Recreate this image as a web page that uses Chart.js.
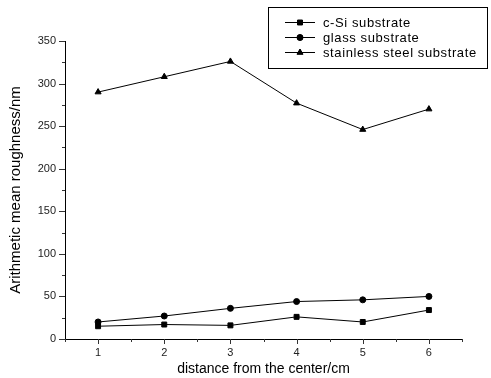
<!DOCTYPE html>
<html>
<head>
<meta charset="utf-8">
<script src="https://cdn.jsdelivr.net/npm/chart.js@4"></script>
<style>
  body { margin: 0; background: #fff; }
  #wrap { width: 491px; height: 378px; }
</style>
</head>
<body>
<div id="wrap"><canvas id="c"></canvas></div>
<script>
// data
const distances = [1, 2, 3, 4, 5, 6];
const cSi = [15, 17, 16, 26, 20, 34];
const glass = [20, 27, 36, 44, 46, 50];
const stainless = [290, 308, 326, 277, 246, 270];
const seriesNames = ['c-Si substrate', 'glass substrate', 'stainless steel substrate'];
const markers = ['rect', 'circle', 'triangle'];

const FONT = 'Liberation Sans, Arial, sans-serif';

function pts(vals) {
    return distances.map((d, i) => ({ x: d, y: vals[i] }));
}

// outward axis ticks, major longer than minor
const axisTicks = {
    id: 'axisTicks',
    afterDraw(chart) {
        const ctx = chart.ctx;
        const a = chart.chartArea;
        const xs = chart.scales.x, ys = chart.scales.y;
        ctx.save();
        ctx.strokeStyle = '#333';
        ctx.lineWidth = 1;
        ctx.beginPath();
        for (let v = 0; v <= 350; v += 25) {
            const y = Math.round(ys.getPixelForValue(v)) + 0.5;
            const len = v % 50 === 0 ? 6 : 3;
            ctx.moveTo(a.left, y);
            ctx.lineTo(a.left - len, y);
        }
        for (let v = 0.5; v <= 6.5; v += 0.5) {
            const x = Math.round(xs.getPixelForValue(v)) + 0.5;
            const len = Number.isInteger(v) ? 5 : 3;
            ctx.moveTo(x, a.bottom);
            ctx.lineTo(x, a.bottom + len);
        }
        ctx.stroke();
        ctx.restore();
    }
};

// boxed legend with line + marker samples
const boxLegend = {
    id: 'boxLegend',
    afterDraw(chart) {
        const ctx = chart.ctx;
        ctx.save();
        ctx.strokeStyle = '#000';
        ctx.lineWidth = 1;
        ctx.strokeRect(268.5, 7.5, 219, 61);
        ctx.font = '13px ' + FONT;
        ctx.letterSpacing = '0.6px';
        ctx.textBaseline = 'middle';
        ctx.fillStyle = '#000';
        chart.data.datasets.forEach((ds, i) => {
            const y = 22 + i * 15;
            ctx.beginPath();
            ctx.moveTo(285, y + 0.5);
            ctx.lineTo(315, y + 0.5);
            ctx.stroke();
            Chart.helpers.drawPoint(ctx, {
                pointStyle: ds.pointStyle, radius: ds.pointRadius, rotation: 0,
                borderWidth: 1
            }, 300, y + 0.5);
            ctx.fill();
            ctx.fillText(ds.label, 323, y + 1);
        });
        ctx.restore();
    }
};

function makeSet(i, vals) {
    return {
        label: seriesNames[i],
        data: pts(vals),
        borderColor: '#000',
        backgroundColor: '#000',
        borderWidth: 1,
        pointStyle: markers[i],
        pointRadius: i === 1 ? 3 : 3.5,
        pointBackgroundColor: '#000',
        pointBorderColor: '#000',
        pointBorderWidth: 1,
        tension: 0
    };
}

new Chart(document.getElementById('c'), {
    type: 'line',
    data: {
        datasets: [makeSet(0, cSi), makeSet(1, glass), makeSet(2, stainless)]
    },
    options: {
        responsive: true,
        maintainAspectRatio: false,
        animation: false,
        layout: { padding: { top: 41, right: 29, left: 0, bottom: 0 } },
        plugins: {
            legend: { display: false },
            tooltip: { enabled: false }
        },
        scales: {
            x: {
                type: 'linear',
                min: 0.5, max: 6.5,
                afterFit: s => { s.height = 39; },
                grid: { display: true, drawOnChartArea: false, color: 'transparent', tickLength: 5 },
                border: { display: true, color: '#000' },
                ticks: {
                    stepSize: 0.5, autoSkip: false, maxRotation: 0, padding: 2,
                    color: '#222', font: { family: FONT, size: 11 },
                    callback: v => Number.isInteger(v) && v >= 1 && v <= 6 ? String(v) : ''
                },
                title: {
                    display: true, text: 'distance from the center/cm',
                    color: '#000', font: { family: FONT, size: 14 }, padding: { top: 0, bottom: 0 }
                }
            },
            y: {
                min: 0, max: 350,
                afterFit: s => { s.width = 65; },
                grid: { display: true, drawOnChartArea: false, color: 'transparent', tickLength: 6 },
                border: { display: true, color: '#000' },
                ticks: {
                    stepSize: 25, autoSkip: false, padding: 3,
                    color: '#222', font: { family: FONT, size: 11 },
                    callback: v => v % 50 === 0 ? String(v) : ''
                },
                title: {
                    display: true, text: 'Arithmetic mean roughness/nm',
                    color: '#000', font: { family: FONT, size: 15 }, padding: { top: 7, bottom: 4 }
                }
            }
        }
    },
    plugins: [axisTicks, boxLegend]
});
</script>
</body>
</html>
